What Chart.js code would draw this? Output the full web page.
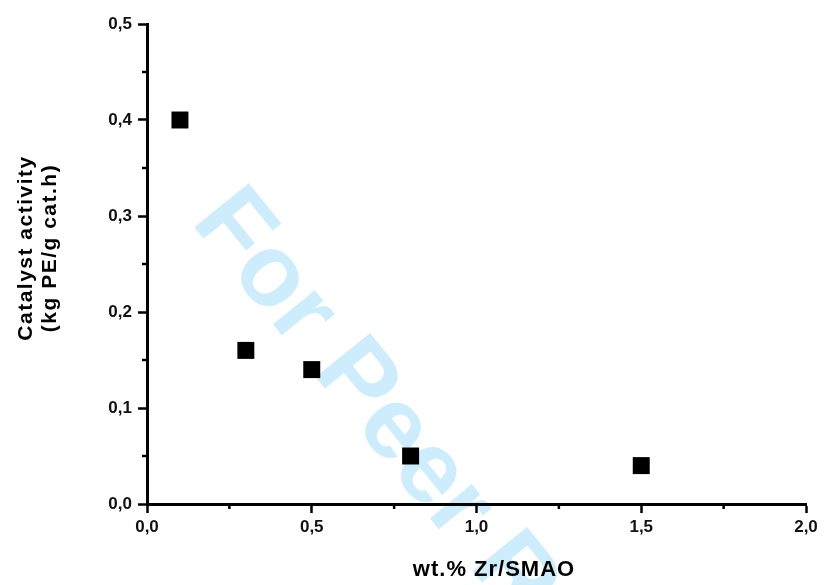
<!DOCTYPE html>
<html>
<head>
<meta charset="utf-8">
<script src="https://cdn.jsdelivr.net/npm/chart.js@4/dist/chart.umd.min.js"></script>
<style>
  body { margin: 0; background: #fff; }
  #wrap { width: 830px; height: 585px; }
</style>
</head>
<body>
<div id="wrap"><canvas id="chart" width="830" height="585"></canvas></div>
<script>
// wt.% Zr on SMAO vs activity (kg PE / g cat.h)
const zrLoading = [0.1, 0.3, 0.5, 0.8, 1.5];
const activity = [0.40, 0.16, 0.14, 0.05, 0.04];

const xTickValues = [0, 0.5, 1.0, 1.5, 2.0];
const yTickValues = [0, 0.1, 0.2, 0.3, 0.4, 0.5];
const xMinorTicks = [0.25, 0.75, 1.25, 1.75];
const yMinorTicks = [0.05, 0.15, 0.25, 0.35, 0.45];

const xTitle = "wt.% Zr/SMAO";
const yTitle = ["Catalyst activity", "(kg PE/g cat.h)"];

const fmt = (v) => v.toFixed(1).replace(".", ",");

// light blue "For Peer" stamp behind the plot
const watermark = {
  id: "watermark",
  beforeDraw(chart) {
    const c = chart.ctx;
    c.save();
    c.translate(190, 222);
    c.rotate(51 * Math.PI / 180);
    c.font = "bold 102px 'Liberation Sans', Arial, sans-serif";
    c.fillStyle = "rgb(206,237,252)";
    c.textBaseline = "alphabetic";
    c.fillText("For Peer Review", 0, 0);
    c.restore();
  },
};

// short minor ticks + axis titles
const extras = {
  id: "extras",
  afterDraw(chart) {
    const c = chart.ctx;
    const xs = chart.scales.x, ys = chart.scales.y;
    const area = chart.chartArea;
    c.save();
    c.strokeStyle = "#000";
    c.lineWidth = 2.5;
    c.beginPath();
    xMinorTicks.forEach((v) => {
      const px = xs.getPixelForValue(v);
      c.moveTo(px, area.bottom);
      c.lineTo(px, area.bottom + 5);
    });
    yMinorTicks.forEach((v) => {
      const py = ys.getPixelForValue(v);
      c.moveTo(area.left, py);
      c.lineTo(area.left - 5, py);
    });
    c.stroke();

    c.fillStyle = "#000";
    c.textAlign = "center";
    c.textBaseline = "middle";
    c.font = "bold 21px 'Liberation Sans', Arial, sans-serif";
    c.letterSpacing = "1.5px";
    [26, 50].forEach((x, i) => {
      c.save();
      c.translate(x, 248);
      c.rotate(-Math.PI / 2);
      c.fillText(yTitle[i], 0, 0);
      c.restore();
    });
    c.font = "bold 22px 'Liberation Sans', Arial, sans-serif";
    c.letterSpacing = "1px";
    c.fillText(xTitle, 494, 570);
    c.restore();
  },
};

const tickFont = { family: "'Liberation Sans', Arial, sans-serif", size: 17, weight: "bold" };

const ctx = document.getElementById("chart").getContext("2d");
new Chart(ctx, {
  type: "scatter",
  data: {
    datasets: [
      {
        label: "activity",
        data: zrLoading.map((x, i) => ({ x: x, y: activity[i] })),
        pointStyle: "rect",
        pointRadius: 12,
        pointHoverRadius: 12,
        backgroundColor: "#000",
        borderWidth: 0,
      },
    ],
  },
  options: {
    responsive: false,
    animation: false,
    layout: { padding: { top: 24, right: 24, left: 0, bottom: 0 } },
    plugins: {
      legend: { display: false },
      tooltip: { enabled: false },
    },
    scales: {
      x: {
        type: "linear",
        min: 0,
        max: 2,
        afterBuildTicks: (s) => { s.ticks = xTickValues.map((v) => ({ value: v })); },
        afterFit: (s) => { s.height = 81; },
        border: { color: "#000", width: 3 },
        grid: { drawOnChartArea: false, drawTicks: true, tickLength: 9, tickWidth: 2.5, tickColor: "#000" },
        ticks: { color: "#111", padding: 4, font: tickFont, callback: (v) => fmt(v) },
      },
      y: {
        type: "linear",
        min: 0,
        max: 0.5,
        afterBuildTicks: (s) => { s.ticks = yTickValues.map((v) => ({ value: v })); },
        afterFit: (s) => { s.width = 147; },
        border: { color: "#000", width: 3 },
        grid: { drawOnChartArea: false, drawTicks: true, tickLength: 9, tickWidth: 2.5, tickColor: "#000" },
        ticks: { color: "#111", padding: 6, font: tickFont, callback: (v) => fmt(v) },
      },
    },
  },
  plugins: [watermark, extras],
});
</script>
</body>
</html>
